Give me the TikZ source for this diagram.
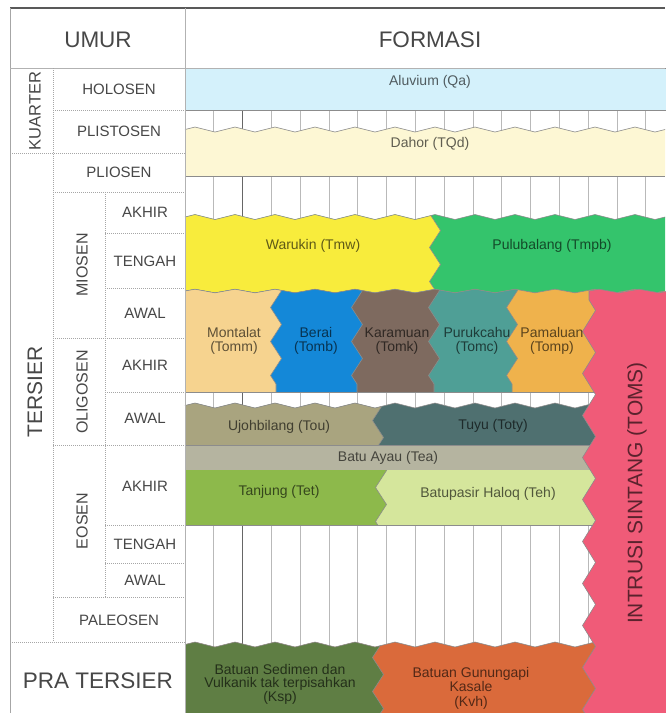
\documentclass[tikz,border=0pt]{standalone}
\usepackage{fontspec}
\setmainfont{Liberation Sans}
\usetikzlibrary{decorations.pathmorphing}

% formation fills
\definecolor{aluv}{HTML}{D4F1FB}
\definecolor{dahor}{HTML}{FDF7D4}
\definecolor{waru}{HTML}{F8EC3C}
\definecolor{pulu}{HTML}{34C46C}
\definecolor{mont}{HTML}{F6D38F}
\definecolor{bera}{HTML}{1488D8}
\definecolor{kara}{HTML}{7E6A5F}
\definecolor{puru}{HTML}{4F9F96}
\definecolor{pama}{HTML}{EFB24C}
\definecolor{intr}{HTML}{F05B78}
\definecolor{ujoh}{HTML}{A9A47F}
\definecolor{tuyu}{HTML}{4F7070}
\definecolor{ayau}{HTML}{B5B4A0}
\definecolor{tanj}{HTML}{8DB94B}
\definecolor{halo}{HTML}{D5E69C}
\definecolor{ksp}{HTML}{5F7E44}
\definecolor{kvh}{HTML}{DA6A3B}

\newcommand\fsz[2]{\fontsize{#1}{#2}\selectfont}

\begin{document}
\begin{tikzpicture}[x=1pt,y=-1pt,
  hz/.style={decoration={zigzag,segment length=40,amplitude=2.5}},
  hzs/.style={decoration={zigzag,segment length=40,amplitude=1.8}},
  vz/.style={decoration={zigzag,segment length=34,amplitude=5.5}},
  iz/.style={decoration={zigzag,segment length=42,amplitude=6.5}},
  rim/.style={draw=black!45,line width=0.6},
  tick/.style={draw=gray!55,line width=0.7},
  gridline/.style={draw=gray!70,line width=0.6,dash pattern=on 1pt off 1pt},
  lab/.style={text=black!72,inner sep=0pt,font=\fsz{15}{16}},
  big/.style={text=black!72,inner sep=0pt,font=\fsz{22.5}{24}},
  era/.style={text=black!72,inner sep=0pt,font=\fsz{16.5}{18},rotate=90},
  flab/.style={text=black,text opacity=0.62,inner sep=0pt,align=center,font=\fsz{14}{13.5}},
]
\useasboundingbox (0,0) rectangle (665,713);
\fill[white] (0,0) rectangle (665,713);

% vertical hatching of the gaps in the record
\foreach \k in {1,...,16}
  \draw[tick] ({185+28.8*\k},110) -- ({185+28.8*\k},713);
\draw[draw=black!60,line width=0.7] (242.6,110) -- (242.6,713);

% Aluvium
\filldraw[fill=aluv,rim] (185,68) rectangle (670,110);

% Dahor
\fill[dahor] (185,129.5) decorate[hz]{-- (665,129.5)} -- (665,176) -- (185,176) -- cycle;
\draw[rim] (185,129.5) decorate[hz]{-- (665,129.5)};
\draw[rim] (185,176) -- (665,176);

% Warukin / Pulubalang
\begin{scope}
  \clip (185,217) decorate[hz]{-- (665,217)} -- (665,294) -- (185,294) -- cycle;
  \fill[pulu] (180,200) rectangle (670,300);
  \filldraw[fill=waru,rim] (170,188) -- (435,188) decorate[vz]{-- (435,310)} -- (170,310) -- cycle;
\end{scope}
\draw[rim] (185,217) decorate[hz]{-- (665,217)};

% Montalat, Berai, Karamuan, Purukcahu, Pamaluan
\begin{scope}
  \clip (185,291) decorate[hzs]{-- (665,291)} -- (665,392) -- (185,392) -- cycle;
  \fill[pama] (180,280) rectangle (670,400);
  \filldraw[fill=puru,rim] (170,282) -- (512,282) decorate[vz]{-- (512,400)} -- (170,400) -- cycle;
  \filldraw[fill=kara,rim] (170,282) -- (434,282) decorate[vz]{-- (434,400)} -- (170,400) -- cycle;
  \filldraw[fill=bera,rim] (170,282) -- (357,282) decorate[vz]{-- (357,400)} -- (170,400) -- cycle;
  \filldraw[fill=mont,rim] (170,282) -- (276,282) decorate[vz]{-- (276,400)} -- (170,400) -- cycle;
\end{scope}
\draw[rim] (185,291) decorate[hzs]{-- (665,291)};
\draw[rim] (185,392) -- (620,392);

% Ujohbilang / Tuyu
\begin{scope}
  \clip (185,405.5) decorate[hz]{-- (665,405.5)} -- (665,445) -- (185,445) -- cycle;
  \fill[tuyu] (180,395) rectangle (670,450);
  \filldraw[fill=ujoh,rim] (170,395) -- (378,395) decorate[vz]{-- (378,455)} -- (170,455) -- cycle;
\end{scope}
\draw[rim] (185,405.5) decorate[hz]{-- (665,405.5)};

% Batu Ayau
\filldraw[fill=ayau,rim] (185,445) rectangle (620,470);

% Tanjung / Batupasir Haloq
\begin{scope}
  \clip (185,470) rectangle (665,525);
  \fill[halo] (180,465) rectangle (670,530);
  \filldraw[fill=tanj,rim] (170,462) -- (381,462) decorate[vz]{-- (381,535)} -- (170,535) -- cycle;
\end{scope}
\draw[rim] (185,525) -- (620,525);

% Ksp / Kvh
\begin{scope}
  \clip (185,644.5) decorate[hz]{-- (665,644.5)} -- (665,713) -- (185,713) -- cycle;
  \fill[kvh] (180,630) rectangle (670,720);
  \filldraw[fill=ksp,rim] (170,632) -- (378,632) decorate[vz]{-- (378,725)} -- (170,725) -- cycle;
\end{scope}
\draw[rim] (185,644.5) decorate[hz]{-- (665,644.5)};

% Intrusi Sintang
\filldraw[fill=intr,rim] (589,291) decorate[hzs]{-- (670,291)} -- (670,720) -- (589,720)
  decorate[iz]{-- (589,291)} -- cycle;

% table frame
\draw[draw=black!65,line width=1.2] (10,8) -- (665,8);
\draw[draw=gray!70,line width=0.8] (10,8) -- (10,713);
\draw[draw=gray!60,line width=0.8] (185,8) -- (185,713);
\draw[draw=gray!60,line width=0.8] (10,68) -- (665,68);

% age grid
\draw[gridline] (53,68) -- (53,642);
\draw[gridline] (105,192) -- (105,597);
\draw[gridline] (53,110) -- (185,110);
\draw[gridline] (10,153) -- (185,153);
\draw[gridline] (53,192) -- (185,192);
\draw[gridline] (105,233) -- (185,233);
\draw[gridline] (105,288) -- (185,288);
\draw[gridline] (53,338) -- (185,338);
\draw[gridline] (105,392) -- (185,392);
\draw[gridline] (53,445) -- (185,445);
\draw[gridline] (105,525) -- (185,525);
\draw[gridline] (105,563) -- (185,563);
\draw[gridline] (53,597) -- (185,597);
\draw[gridline] (10,642) -- (185,642);

% headings
\node[big] (hUmur) at (98,40) {UMUR};
\node[big] (hFormasi) at (430,40) {FORMASI};

% ages
\node[era] (kuarter) at (35,111) {KUARTER};
\node[era,font=\fsz{21}{22}] (tersier) at (35,392) {TERSIER};
\node[big] (pratersier) at (98,681) {PRA TERSIER};
\node[era,font=\fsz{16}{17}] (miosen) at (82,265) {MIOSEN};
\node[era,font=\fsz{16}{17}] (oligosen) at (82,392) {OLIGOSEN};
\node[era,font=\fsz{16}{17}] (eosen) at (82,521) {EOSEN};

\node[lab] (holosen) at (119,89) {HOLOSEN};
\node[lab] (plistosen) at (119,131) {PLISTOSEN};
\node[lab] (pliosen) at (119,172) {PLIOSEN};
\node[lab] (miAkhir) at (145,212) {AKHIR};
\node[lab] (miTengah) at (145,261) {TENGAH};
\node[lab] (miAwal) at (145,313) {AWAL};
\node[lab] (olAkhir) at (145,365) {AKHIR};
\node[lab] (olAwal) at (145,418) {AWAL};
\node[lab] (eoAkhir) at (145,486) {AKHIR};
\node[lab] (eoTengah) at (145,544) {TENGAH};
\node[lab] (eoAwal) at (145,580) {AWAL};
\node[lab] (paleosen) at (119,620) {PALEOSEN};

% formations
\node[flab] (qa) at (430,82) {Aluvium (Qa)};
\node[flab] (tqd) at (430,144) {Dahor (TQd)};
\node[flab] (tmw) at (313,246) {Warukin (Tmw)};
\node[flab] (tmpb) at (552,246) {Pulubalang (Tmpb)};
\node[flab] (tomm) at (234,341) {Montalat\\(Tomm)};
\node[flab] (tomb) at (316,341) {Berai\\(Tomb)};
\node[flab] (tomk) at (397,341) {Karamuan\\(Tomk)};
\node[flab] (tomc) at (477,341) {Purukcahu\\(Tomc)};
\node[flab] (tomp) at (552,341) {Pamaluan\\(Tomp)};
\node[flab] (tou) at (279,427) {Ujohbilang (Tou)};
\node[flab] (toty) at (493,426) {Tuyu (Toty)};
\node[flab] (tea) at (388,458) {Batu Ayau (Tea)};
\node[flab] (tet) at (279,492) {Tanjung (Tet)};
\node[flab] (teh) at (488,494) {Batupasir Haloq (Teh)};
\node[flab] (kspl) at (280,684) {Batuan Sedimen dan\\Vulkanik tak terpisahkan\\(Ksp)};
\node[flab,font=\fsz{14}{14.5}] (kvhl) at (471,688) {Batuan Gunungapi\\Kasale\\(Kvh)};
\node[flab,rotate=90,font=\fsz{21}{22}] (toms) at (637,493) {INTRUSI SINTANG (TOMS)};
\end{tikzpicture}
\end{document}
